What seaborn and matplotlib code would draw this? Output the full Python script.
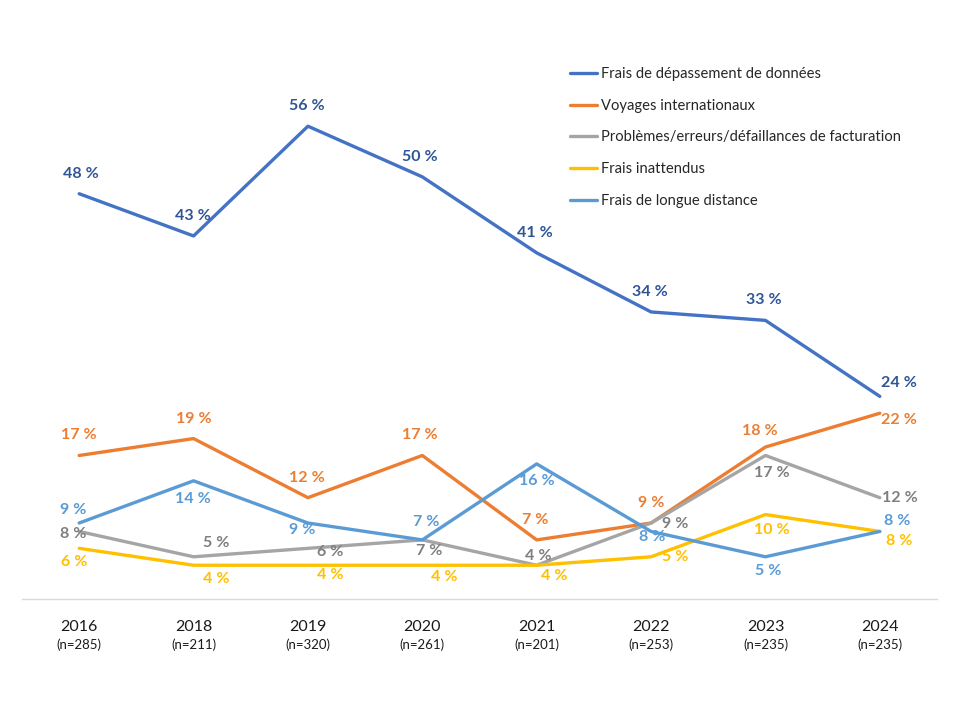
import pandas as pd
import seaborn as sns
import matplotlib.pyplot as plt

years = ["2016", "2018", "2019", "2020", "2021", "2022", "2023", "2024"]
n_labels = ["(n=285)", "(n=211)", "(n=320)", "(n=261)", "(n=201)", "(n=253)", "(n=235)", "(n=235)"]

series_names = [
    "Frais de dépassement de données",
    "Voyages internationaux",
    "Problèmes/erreurs/défaillances de facturation",
    "Frais inattendus",
    "Frais de longue distance",
]
depassement = [48, 43, 56, 50, 41, 34, 33, 24]
voyages = [17, 19, 12, 17, 7, 9, 18, 22]
facturation = [8, 5, 6, 7, 4, 9, 17, 12]
inattendus = [6, 4, 4, 4, 4, 5, 10, 8]
longue_distance = [9, 14, 9, 7, 16, 8, 5, 8]

line_colors = ["#4472C4", "#ED7D31", "#A5A5A5", "#FFC000", "#5B9BD5"]
label_colors = ["#2F5597", "#ED7D31", "#7F7F7F", "#FFC000", "#5B9BD5"]

# label offsets in pixels (dx, dy) relative to each point, y up
label_offsets = [
    [(2, 20), (-1, 20), (-1, 20), (-2, 20), (-2, 20), (-1, 20), (-2, 20), (19, 13)],
    [(0, 20), (0, 20), (-1, 20), (-2, 20), (-1, 20), (0, 20), (-6, 16), (19, -7)],
    [(-6, -3), (23, 14), (22, -4), (7, -11), (2, 9), (24, -1), (6, -18), (20, 0)],
    [(-5, -14), (23, -14), (22, -10), (22, -12), (18, -11), (24, 0), (6, -15), (19, -10)],
    [(-6, 13), (-1, -18), (-6, -7), (4, 18), (0, -17), (1, -6), (3, -14), (17, 10)],
]

values = [depassement, voyages, facturation, inattendus, longue_distance]
rows = []
for name, vals in zip(series_names, values):
    for i, v in enumerate(vals):
        rows.append({"serie": name, "pos": i, "value": v})
df = pd.DataFrame(rows)

sns.set_style("white")
plt.rcParams["font.family"] = ["Lato", "DejaVu Sans"]

fig = plt.figure(figsize=(9.6, 7.2), dpi=100)
ax = fig.add_axes([22 / 960, 1 - 599 / 720, 915 / 960, 591 / 720])

sns.lineplot(data=df, x="pos", y="value", hue="serie", hue_order=series_names,
             palette=line_colors, linewidth=2.4, sort=False, ax=ax)

for vals, offs, col in zip(values, label_offsets, label_colors):
    for i, (v, (dx, dy)) in enumerate(zip(vals, offs)):
        ax.annotate(f"{v}\u202f%", xy=(i, v), xytext=(dx * 0.72, dy * 0.72),
                    textcoords="offset points", ha="center", va="center",
                    fontsize=11.5, fontweight="bold", color=col)

ax.set_xlim(-0.5, 7.5)
ax.set_ylim(0, 70)
ax.set_xticks(range(len(years)))
ax.set_xticklabels(years, fontsize=11.5, color="#1a1a1a")
ax.tick_params(axis="x", length=0, pad=15)
ax.set_yticks([])
ax.set_xlabel("")
ax.set_ylabel("")
for i, n in enumerate(n_labels):
    ax.annotate(n, xy=(i, 0), xycoords=("data", "axes fraction"), xytext=(0, -33),
                textcoords="offset points", ha="center", va="center",
                fontsize=9.5, color="#1a1a1a")

for side in ["top", "left", "right"]:
    ax.spines[side].set_visible(False)
ax.spines["bottom"].set_color("#D9D9D9")
ax.spines["bottom"].set_linewidth(1)

handles, labels = ax.get_legend_handles_labels()
ax.legend(handles, labels, loc="upper left", bbox_to_anchor=(570 / 960, 1 - 67 / 720),
          bbox_transform=fig.transFigure, frameon=False, fontsize=10.6,
          handlelength=1.8, handletextpad=0.3, labelspacing=1.2,
          borderpad=0, borderaxespad=0)

plt.savefig("out.png", dpi=100)
